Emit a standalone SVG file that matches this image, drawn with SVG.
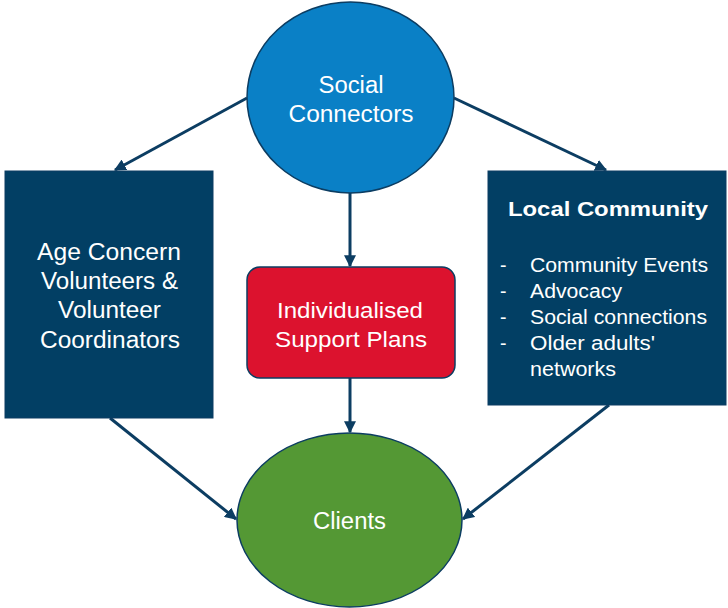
<svg xmlns="http://www.w3.org/2000/svg" width="728" height="608" viewBox="0 0 728 608">
<style>
.t{font-family:"Liberation Sans",Arial,sans-serif;fill:#fff;font-size:23px;text-anchor:middle}
.b{font-family:"Liberation Sans",Arial,sans-serif;fill:#fff;font-size:19.5px}
.c{stroke:#0c3d62;stroke-width:3;fill:none;marker-end:url(#ah)}
</style>
<defs>
<marker id="ah" viewBox="0 0 10 10" refX="9" refY="5" markerWidth="4" markerHeight="4" orient="auto" markerUnits="strokeWidth">
<path d="M0,0 L10,5 L0,10 z" fill="#0c3d62"/>
</marker>
</defs>
<rect width="728" height="608" fill="#fff"/>
<g id="connectors">
<line class="c" x1="247" y1="98" x2="115" y2="170"/>
<line class="c" x1="454" y1="98" x2="606" y2="170"/>
<line class="c" x1="350" y1="193" x2="350" y2="266"/>
<line class="c" x1="350" y1="378" x2="350" y2="432"/>
<line class="c" x1="110" y1="418" x2="236" y2="519"/>
<line class="c" x1="609" y1="405" x2="463" y2="519"/>
</g>
<g id="social">
<ellipse cx="350.5" cy="97.5" rx="103.5" ry="95.5" fill="#0a80c6" stroke="#0c3d62" stroke-width="1.5"/>
<text class="t" x="351" y="93" textLength="65" lengthAdjust="spacingAndGlyphs">Social</text>
<text class="t" x="351" y="122" textLength="125" lengthAdjust="spacingAndGlyphs">Connectors</text>
</g>
<g id="volunteers">
<rect x="5" y="171" width="208" height="247" fill="#023f64" stroke="#0c3d62"/>
<text class="t" x="109" y="260" textLength="144" lengthAdjust="spacingAndGlyphs">Age Concern</text>
<text class="t" x="109.5" y="289" textLength="137" lengthAdjust="spacingAndGlyphs">Volunteers &amp;</text>
<text class="t" x="109.5" y="318" textLength="103" lengthAdjust="spacingAndGlyphs">Volunteer</text>
<text class="t" x="110" y="348" textLength="140" lengthAdjust="spacingAndGlyphs">Coordinators</text>
</g>
<g id="community">
<rect x="488" y="171" width="238" height="234" fill="#023f64" stroke="#0c3d62"/>
<text class="t" x="608" y="216" style="font-weight:bold;font-size:20px" textLength="200" lengthAdjust="spacingAndGlyphs">Local Community</text>
<text class="b" x="500" y="272">-</text><text class="b" x="530" y="272" textLength="178" lengthAdjust="spacingAndGlyphs">Community Events</text>
<text class="b" x="500" y="298">-</text><text class="b" x="530" y="298" textLength="92" lengthAdjust="spacingAndGlyphs">Advocacy</text>
<text class="b" x="500" y="324">-</text><text class="b" x="530" y="324" textLength="177" lengthAdjust="spacingAndGlyphs">Social connections</text>
<text class="b" x="500" y="350">-</text><text class="b" x="530" y="350" textLength="125" lengthAdjust="spacingAndGlyphs">Older adults'</text>
<text class="b" x="530" y="376" textLength="86" lengthAdjust="spacingAndGlyphs">networks</text>
</g>
<g id="plans">
<rect x="247" y="267" width="208" height="111" rx="13" fill="#dc122e" stroke="#0c3d62" stroke-width="1.5"/>
<text class="t" x="350" y="318" style="font-size:22px" textLength="146" lengthAdjust="spacingAndGlyphs">Individualised</text>
<text class="t" x="351" y="347" style="font-size:22px" textLength="152" lengthAdjust="spacingAndGlyphs">Support Plans</text>
</g>
<g id="clients">
<ellipse cx="349.5" cy="520" rx="112.5" ry="87" fill="#549834" stroke="#0c3d62" stroke-width="1.5"/>
<text class="t" x="349.5" y="529" textLength="73" lengthAdjust="spacingAndGlyphs">Clients</text>
</g>
</svg>
